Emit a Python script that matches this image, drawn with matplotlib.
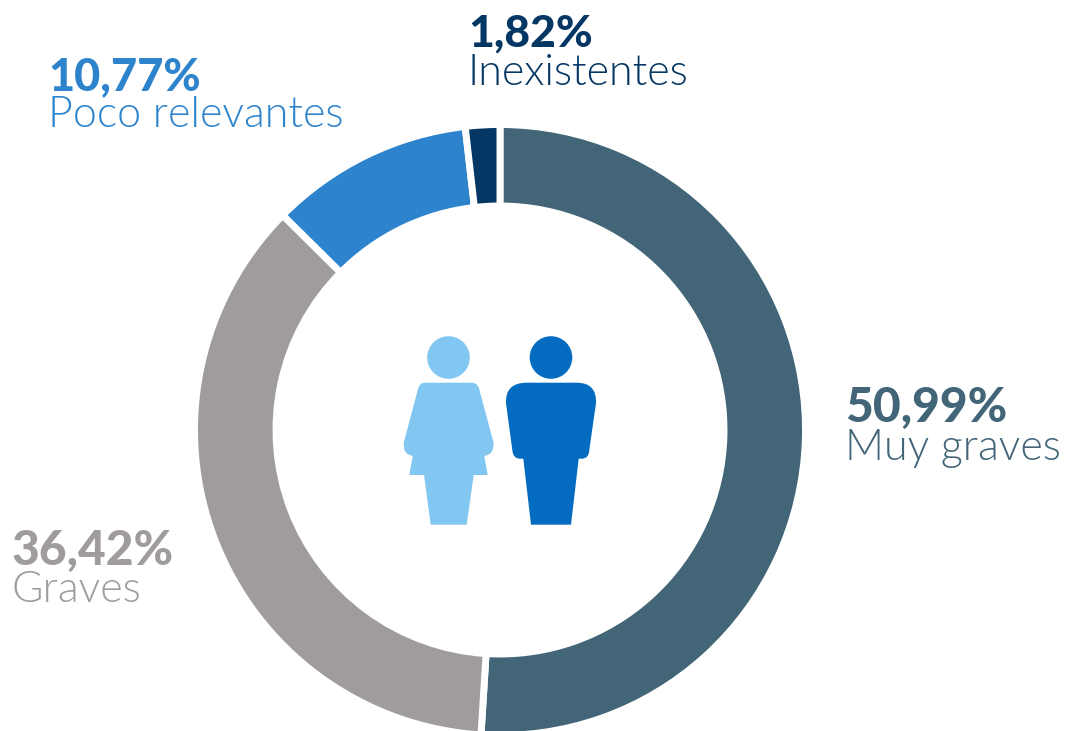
import matplotlib
matplotlib.use("Agg")
import matplotlib.pyplot as plt
from matplotlib.patches import Circle, PathPatch
from matplotlib.path import Path
from matplotlib.transforms import Affine2D

labels = ["Muy graves", "Graves", "Poco relevantes", "Inexistentes"]
values = [50.99, 36.42, 10.77, 1.82]
pct_labels = ["50,99%", "36,42%", "10,77%", "1,82%"]
colors = ["#426578", "#9f9c9b", "#2d84cc", "#043764"]
W, H = 1067, 731
fig = plt.figure(figsize=(W/100, H/100), dpi=100)
ax = fig.add_axes([0, 0, 1, 1])
CX, CY = 500, 430
ring = ax.pie(values, colors=colors, startangle=90, counterclock=False, center=(CX, CY), radius=305.5,
              wedgeprops=dict(width=81.5, edgecolor="white", linewidth=5), frame=True)
ax.set_xlim(0, W); ax.set_ylim(H, 0); ax.axis("off"); ax.set_aspect("equal")
mirror = Affine2D().translate(-CX, -CY).scale(1, -1).translate(CX, CY) + ax.transData
for w in ring[0]:
    w.set_transform(mirror)

fam = "Lato"
pos = [(845, 421.7, 459.5), (12, 565, 601.7), (48, 90, 126.7), (468, 46.7, 85)]
pct_sizes = [34.5, 34.5, 32.5, 32]
for lab, p, c, (x, y1, y2), fs in zip(labels, pct_labels, colors, pos, pct_sizes):
    ax.text(x, y1, p, color=c, fontsize=fs, fontweight=900, family=fam, va="baseline", ha="left")
    ax.text(x, y2, lab, color=c, fontsize=31, fontweight=300, family=fam, va="baseline", ha="left")

def shape(start, segs):
    verts, codes = [start], [Path.MOVETO]
    for s in segs:
        if len(s) == 2:
            verts.append(s); codes.append(Path.LINETO)
        else:
            verts += [s[:2], s[2:]]; codes += [Path.CURVE3, Path.CURVE3]
    verts.append(start); codes.append(Path.CLOSEPOLY)
    return Path(verts, codes)

lb = "#82c7f2"
ax.add_patch(Circle((448.5, 357.5), 21.3, color=lb, lw=0))
ax.add_patch(PathPatch(shape((425, 382.7), [
    (420, 382.7, 418.3, 388), (404, 441.7), (402, 454, 412.7, 456), (409.3, 475), (424, 475),
    (430.7, 524.7), (466.7, 524.7), (473.7, 475), (487.7, 475), (484.3, 456),
    (495, 454, 493.3, 441.7), (479, 388.3), (477, 382.7, 471.7, 382.7)]), color=lb, lw=0))
db = "#036cc0"
ax.add_patch(Circle((551, 357.5), 21.3, color=db, lw=0))
ax.add_patch(PathPatch(shape((526.7, 382.7), [
    (505, 382.7, 506, 403.3), (512.3, 450), (513, 458.7, 520, 458.7), (523.3, 458.7),
    (531, 524.7), (571, 524.7), (578.7, 458.7), (581.7, 458.7), (589, 458.7, 589.3, 450),
    (596, 403.3), (597, 382.7, 576.7, 382.7)]), color=db, lw=0))
fig.savefig("out.png", dpi=100)
